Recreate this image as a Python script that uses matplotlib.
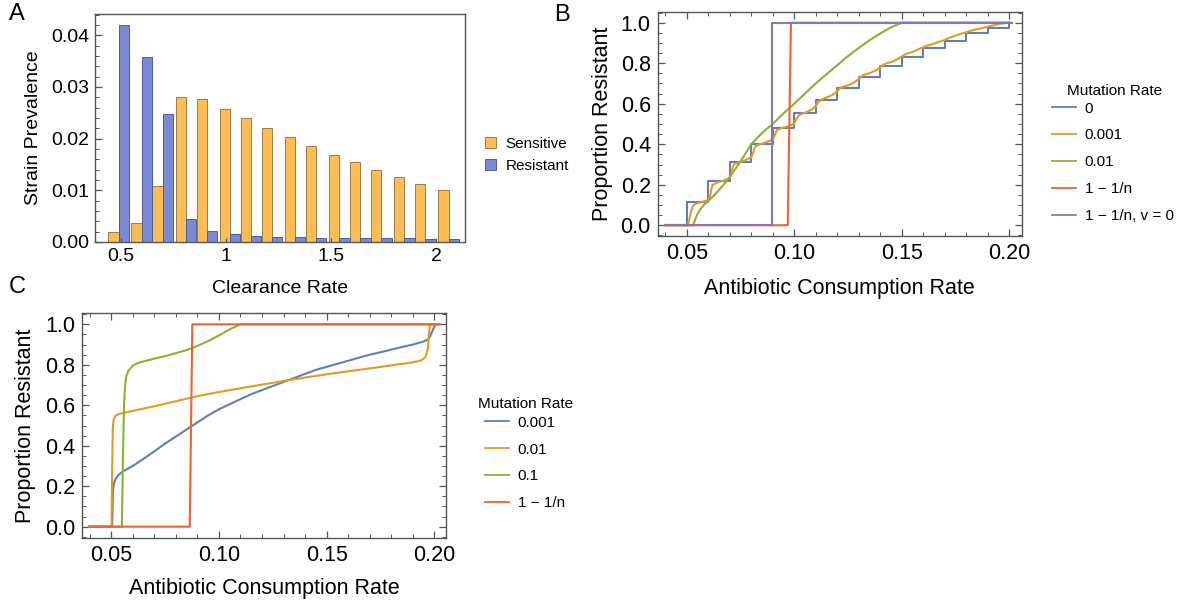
import matplotlib
matplotlib.use("Agg")
import matplotlib.pyplot as plt
from matplotlib.ticker import MultipleLocator, FixedLocator
from matplotlib.patches import Patch

plt.rcParams['font.family'] = ['Liberation Sans', 'DejaVu Sans']

# ---- panel A data ----
clearance = [0.49, 0.60, 0.70, 0.81, 0.91, 1.02, 1.12, 1.22, 1.33, 1.43, 1.54, 1.64, 1.74, 1.85, 1.95, 2.06]
sensitive = [0.0019, 0.0037, 0.0109, 0.0281, 0.0277, 0.0258, 0.0239, 0.0221, 0.0203, 0.0186,
             0.0169, 0.0154, 0.0139, 0.0126, 0.0113, 0.0100]
resistant = [0.0419, 0.0357, 0.0248, 0.0045, 0.0022, 0.0015, 0.0012, 0.0010, 0.0009, 0.0008,
             0.0008, 0.0007, 0.0007, 0.0007, 0.0006, 0.0006]

# ---- panel B data ----
b_labels = ["0", "0.001", "0.01", "1 \u2212 1/n", "1 \u2212 1/n, v = 0"]
b0_x = [0.04, 0.05, 0.06, 0.07, 0.08, 0.09, 0.10, 0.11, 0.12, 0.13, 0.14, 0.15, 0.16, 0.17, 0.18, 0.19, 0.20, 0.2015]
b0_y = [0.0, 0.115, 0.219, 0.314, 0.400, 0.480, 0.553, 0.620, 0.679, 0.734, 0.785, 0.830, 0.873, 0.911, 0.948, 0.975, 1.0, 1.0]
b1_x = [0.04, 0.0505, 0.0515, 0.052, 0.053, 0.054, 0.057, 0.060, 0.061, 0.0615, 0.062, 0.064, 0.067, 0.070,
        0.071, 0.0715, 0.072, 0.074, 0.077, 0.080, 0.081, 0.0815, 0.082, 0.084, 0.087, 0.090, 0.091, 0.0915,
        0.092, 0.094, 0.097, 0.100, 0.101, 0.102, 0.103, 0.105, 0.108, 0.110, 0.111, 0.112, 0.113, 0.115,
        0.118, 0.120, 0.121, 0.122, 0.123, 0.125, 0.128, 0.130, 0.131, 0.132, 0.133, 0.135, 0.138, 0.140,
        0.141, 0.142, 0.143, 0.145, 0.148, 0.150, 0.151, 0.152, 0.153, 0.155, 0.158, 0.160, 0.161, 0.162,
        0.163, 0.166, 0.170, 0.172, 0.174, 0.176, 0.180, 0.182, 0.184, 0.188, 0.190, 0.192, 0.196, 0.200]
b1_y = [0.0, 0.0, 0.04, 0.07, 0.097, 0.105, 0.115, 0.124, 0.15, 0.18, 0.198, 0.21, 0.22, 0.233,
        0.265, 0.29, 0.30, 0.31, 0.32, 0.335, 0.36, 0.38, 0.39, 0.40, 0.41, 0.423, 0.445, 0.46,
        0.47, 0.48, 0.488, 0.502, 0.525, 0.54, 0.548, 0.555, 0.57, 0.588, 0.605, 0.615, 0.622, 0.63,
        0.645, 0.662, 0.674, 0.68, 0.685, 0.69, 0.705, 0.722, 0.733, 0.74, 0.745, 0.75, 0.765, 0.778,
        0.789, 0.795, 0.8, 0.805, 0.82, 0.833, 0.84, 0.845, 0.85, 0.855, 0.87, 0.878, 0.884, 0.888,
        0.89, 0.90, 0.915, 0.925, 0.932, 0.94, 0.953, 0.96, 0.965, 0.975, 0.98, 0.985, 0.995, 1.0]
b2_x = [0.04, 0.053, 0.054, 0.055, 0.056, 0.057, 0.058, 0.060, 0.0625, 0.065, 0.0675, 0.070, 0.075, 0.080,
        0.085, 0.090, 0.095, 0.100, 0.105, 0.110, 0.115, 0.120, 0.125, 0.130, 0.135, 0.140, 0.145, 0.150, 0.200]
b2_y = [0.0, 0.0, 0.03, 0.055, 0.073, 0.088, 0.10, 0.12, 0.145, 0.174, 0.205, 0.238, 0.315, 0.40,
        0.455, 0.50, 0.552, 0.60, 0.65, 0.70, 0.745, 0.79, 0.835, 0.875, 0.913, 0.947, 0.977, 1.0, 1.0]
b3_x = [0.04, 0.097, 0.0985, 0.200]
b3_y = [0.0, 0.0, 1.0, 1.0]
b4_x = [0.04, 0.0895, 0.0895, 0.2015]
b4_y = [0.0, 0.0, 1.0, 1.0]
b_steps = ['steps-post', 'default', 'default', 'default', 'default']

# ---- panel C data ----
c_labels = ["0.001", "0.01", "0.1", "1 \u2212 1/n"]
c0_x = [0.04, 0.0505, 0.0508, 0.051, 0.0515, 0.052, 0.053, 0.055, 0.060, 0.065, 0.070, 0.075, 0.080,
        0.085, 0.090, 0.095, 0.100, 0.105, 0.110, 0.115, 0.120, 0.125, 0.130, 0.135, 0.140, 0.145,
        0.150, 0.155, 0.160, 0.165, 0.170, 0.175, 0.180, 0.185, 0.190, 0.195, 0.197, 0.198, 0.199, 0.2005]
c0_y = [0.0, 0.0, 0.14, 0.19, 0.22, 0.235, 0.25, 0.27, 0.30, 0.335, 0.372, 0.41, 0.445,
        0.48, 0.515, 0.55, 0.58, 0.605, 0.63, 0.655, 0.675, 0.695, 0.715, 0.735, 0.755, 0.775,
        0.79, 0.805, 0.82, 0.835, 0.85, 0.862, 0.875, 0.888, 0.90, 0.915, 0.925, 0.94, 0.965, 1.0]
c1_x = [0.04, 0.0502, 0.0505, 0.0508, 0.0512, 0.052, 0.054, 0.060, 0.070, 0.080, 0.090, 0.100, 0.110,
        0.120, 0.130, 0.140, 0.150, 0.160, 0.170, 0.180, 0.190, 0.194, 0.196, 0.197, 0.1975, 0.198, 0.202]
c1_y = [0.0, 0.0, 0.30, 0.49, 0.53, 0.548, 0.558, 0.572, 0.595, 0.62, 0.645, 0.665, 0.684,
        0.702, 0.72, 0.737, 0.753, 0.768, 0.782, 0.797, 0.812, 0.822, 0.84, 0.88, 0.95, 1.0, 1.0]
c2_x = [0.04, 0.055, 0.0555, 0.056, 0.0565, 0.057, 0.058, 0.060, 0.062, 0.065, 0.070, 0.075, 0.080,
        0.085, 0.090, 0.095, 0.100, 0.105, 0.110, 0.202]
c2_y = [0.0, 0.0, 0.35, 0.60, 0.70, 0.74, 0.77, 0.795, 0.807, 0.817, 0.83, 0.843, 0.857,
        0.873, 0.893, 0.917, 0.945, 0.975, 1.0, 1.0]
c3_x = [0.04, 0.0865, 0.0877, 0.2025]
c3_y = [0.0, 0.0, 1.0, 1.0]
c_steps = ['default'] * 4

colors = ['#5E81B5', '#E19C24', '#8FB032', '#EB6235', '#8778B3']
frame_col = '#555555'

fig = plt.figure(figsize=(11.92, 6.05), dpi=100)


def style_frame(ax, all_sides=True):
    for s in ax.spines.values():
        s.set_color(frame_col)
        s.set_linewidth(1.0)
    ax.tick_params(which='both', direction='in', color=frame_col,
                   top=all_sides, right=all_sides)
    ax.tick_params(which='major', length=5, width=0.9)
    ax.tick_params(which='minor', length=2.8, width=0.7)


# ---------- A ----------
axA = fig.add_axes([95/1192, 1-242/605, 370/1192, 228/605])
w = 0.049
axA.bar([c - w/2 for c in clearance], sensitive, width=w, color='#FDBC55',
        edgecolor='#9C7D45', linewidth=0.7, label='Sensitive')
axA.bar([c + w/2 for c in clearance], resistant, width=w, color='#7B8AD4',
        edgecolor='#4F5C99', linewidth=0.7, label='Resistant')
axA.set_xlim(0.378, 2.138)
axA.set_ylim(0, 0.0441)
style_frame(axA, all_sides=False)
axA.tick_params(axis='x', which='major', length=3)
axA.xaxis.set_major_locator(FixedLocator([0.5, 1, 1.5, 2]))
axA.set_xticklabels(['0.5', '1', '1.5', '2'])
axA.yaxis.set_major_locator(MultipleLocator(0.01))
axA.yaxis.set_minor_locator(MultipleLocator(0.002))
axA.yaxis.set_major_formatter(plt.FormatStrFormatter('%.2f'))
axA.tick_params(labelsize=14, pad=4)
axA.set_xlabel('Clearance Rate', fontsize=14)
axA.set_ylabel('Strain Prevalence', fontsize=14)
axA.yaxis.set_label_coords(-0.143, 0.5)
axA.xaxis.set_label_coords(0.5, -0.167)
hA = [Patch(facecolor='#FDBC55', edgecolor='#9C7D45', linewidth=0.7),
      Patch(facecolor='#7B8AD4', edgecolor='#4F5C99', linewidth=0.7)]
fig.legend(hA, ['Sensitive', 'Resistant'], loc='center left',
           bbox_to_anchor=(485/1192, 1-155/605), frameon=False, fontsize=11,
           borderpad=0, borderaxespad=0,
           handlelength=0.75, handleheight=0.75, handletextpad=0.6, labelspacing=0.55)


def curve_panel(rect, xs, ys, styles, labels, xlim, ylim, handle_left, rows_center, title_pos):
    ax = fig.add_axes(rect)
    for x, y, ds, c, lab in zip(xs, ys, styles, colors, labels):
        ax.plot(x, y, color=c, lw=1.5, label=lab, drawstyle=ds, solid_joinstyle='round')
    ax.set_xlim(*xlim)
    ax.set_ylim(*ylim)
    style_frame(ax)
    ax.xaxis.set_major_locator(MultipleLocator(0.05))
    ax.xaxis.set_minor_locator(MultipleLocator(0.01))
    ax.yaxis.set_major_locator(MultipleLocator(0.2))
    ax.yaxis.set_minor_locator(MultipleLocator(0.05))
    ax.xaxis.set_major_formatter(plt.FormatStrFormatter('%.2f'))
    ax.yaxis.set_major_formatter(plt.FormatStrFormatter('%.1f'))
    ax.tick_params(labelsize=15.5, pad=5)
    ax.set_xlabel('Antibiotic Consumption Rate', fontsize=15.5)
    ax.set_ylabel('Proportion Resistant', fontsize=15.5)
    handles, labs = ax.get_legend_handles_labels()
    leg = fig.legend(handles, labs, loc='center left',
                     bbox_to_anchor=(handle_left/1192, 1-rows_center/605), frameon=False,
                     fontsize=11, borderpad=0, borderaxespad=0,
                     handlelength=1.6, handletextpad=0.55, labelspacing=0.84)
    for h in leg.legend_handles:
        h.set_linewidth(1.3)
        h.set_drawstyle('default')
    fig.text(title_pos[0]/1192, 1-title_pos[1]/605, 'Mutation Rate', fontsize=11,
             ha='center', va='center')
    return ax


axB = curve_panel([657.7/1192, 1-236/605, 364.3/1192, 224/605],
                  [b0_x, b1_x, b2_x, b3_x, b4_x], [b0_y, b1_y, b2_y, b3_y, b4_y], b_steps,
                  b_labels, (0.0365, 0.206), (-0.053, 1.053),
                  1052, 162.2, (1115, 90.7))
axB.yaxis.set_label_coords(-0.123, 0.5)
axB.xaxis.set_label_coords(0.5, -0.1875)

axC = curve_panel([82/1192, 1-538/605, 364/1192, 225/605],
                  [c0_x, c1_x, c2_x, c3_x], [c0_y, c1_y, c2_y, c3_y], c_steps,
                  c_labels, (0.0365, 0.2054), (-0.056, 1.056),
                  485, 463, (526, 404.3))
axC.yaxis.set_label_coords(-0.126, 0.5)
axC.xaxis.set_label_coords(0.5, -0.178)

fig.text(17/1192, 1-14/605, 'A', fontsize=17, ha='center', va='center')
fig.text(562/1192, 1-15/605, 'B', fontsize=17, ha='center', va='center')
fig.text(17/1192, 1-287/605, 'C', fontsize=17, ha='center', va='center')

fig.savefig('out.png', dpi=100)
